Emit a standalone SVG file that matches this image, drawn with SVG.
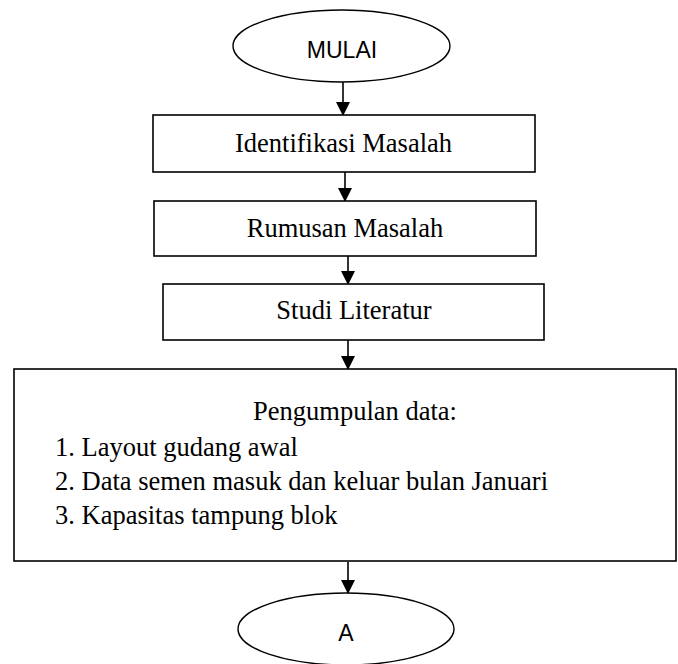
<svg xmlns="http://www.w3.org/2000/svg" width="678" height="664" viewBox="0 0 678 664">
<style>
.box{fill:#fff;stroke:#000;stroke-width:1.6}
.term{fill:#fff;stroke:#000;stroke-width:1.4}
.serif{font-family:"Liberation Serif","Times New Roman",serif;font-size:26.5px;fill:#000}
.sans{font-family:"Liberation Sans",Arial,sans-serif;font-size:23px;fill:#000}
.conn{stroke:#000;stroke-width:1.6;fill:none}
</style>
<defs>
<marker id="ah" markerUnits="userSpaceOnUse" markerWidth="14" markerHeight="15" refX="13" refY="7" orient="auto">
<path d="M0,0 L14,7 L0,14 Z" fill="#000"/>
</marker>
</defs>
<rect width="678" height="664" fill="#fff"/>
<g id="connectors">
<line class="conn" x1="343" y1="82" x2="343" y2="115" marker-end="url(#ah)"/>
<line class="conn" x1="345" y1="172" x2="345" y2="201" marker-end="url(#ah)"/>
<line class="conn" x1="348" y1="256" x2="348" y2="284" marker-end="url(#ah)"/>
<line class="conn" x1="348" y1="340" x2="348" y2="369" marker-end="url(#ah)"/>
<line class="conn" x1="348" y1="562" x2="348" y2="593" marker-end="url(#ah)"/>
</g>
<g id="mulai">
<ellipse class="term" cx="341.5" cy="46" rx="108.5" ry="36"/>
<text class="sans" x="342" y="58" text-anchor="middle">MULAI</text>
</g>
<g id="identifikasi">
<rect class="box" x="153" y="115" width="382" height="57"/>
<text class="serif" x="343.5" y="152" text-anchor="middle">Identifikasi Masalah</text>
</g>
<g id="rumusan">
<rect class="box" x="154" y="201" width="382" height="55"/>
<text class="serif" x="345" y="237" text-anchor="middle">Rumusan Masalah</text>
</g>
<g id="studi">
<rect class="box" x="163" y="284" width="381" height="56"/>
<text class="serif" x="354" y="319" text-anchor="middle">Studi Literatur</text>
</g>
<g id="pengumpulan">
<rect class="box" x="14" y="369" width="662" height="192"/>
<text class="serif" x="355" y="420" text-anchor="middle">Pengumpulan data:</text>
<text class="serif" x="55" y="456">1. Layout gudang awal</text>
<text class="serif" x="55" y="490">2. Data semen masuk dan keluar bulan Januari</text>
<text class="serif" x="55" y="524">3. Kapasitas tampung blok</text>
</g>
<g id="a">
<ellipse class="term" cx="346" cy="629" rx="108" ry="36"/>
<text class="sans" x="346" y="641" text-anchor="middle">A</text>
</g>
</svg>
